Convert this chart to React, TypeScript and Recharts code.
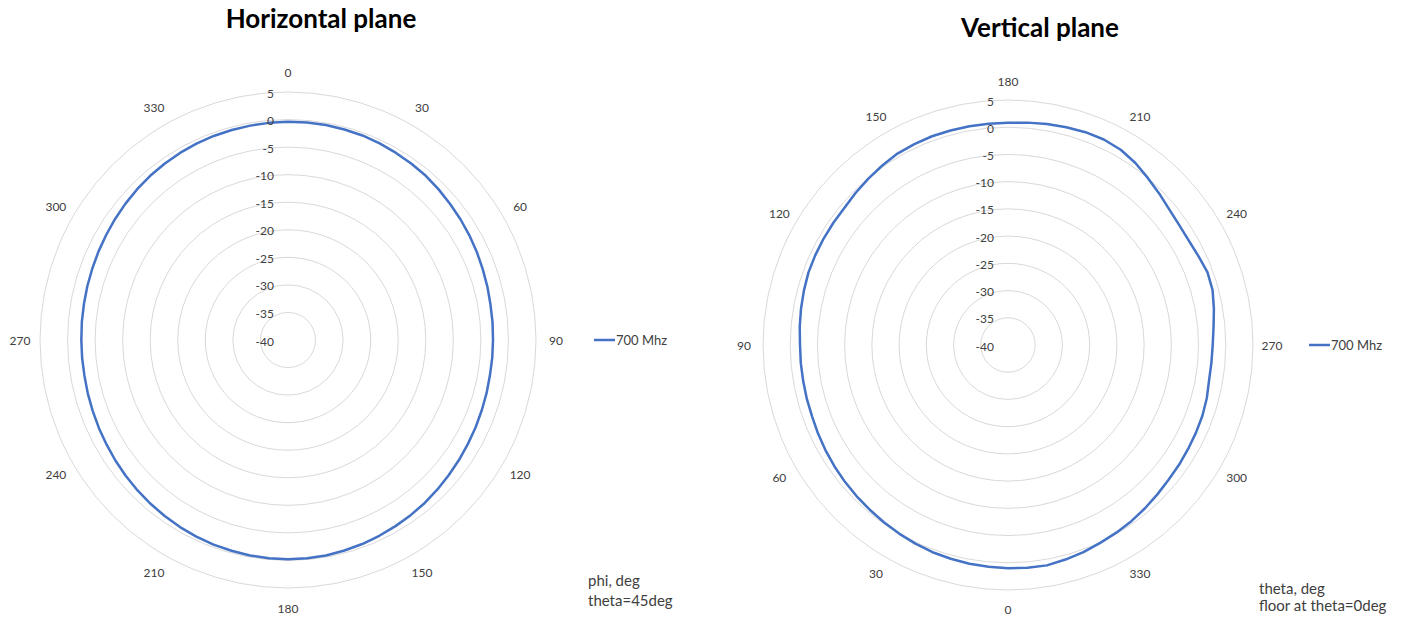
import React from 'react';
import { RadarChart, Radar, PolarGrid, PolarAngleAxis, PolarRadiusAxis, Legend } from 'recharts';

const hAngles = [0, 5, 10, 15, 20, 25, 30, 35, 40, 45, 50, 55, 60, 65, 70, 75, 80, 85, 90, 95, 100, 105, 110, 115, 120, 125, 130, 135, 140, 145, 150, 155, 160, 165, 170, 175, 180, 185, 190, 195, 200, 205, 210, 215, 220, 225, 230, 235, 240, 245, 250, 255, 260, 265, 270, 275, 280, 285, 290, 295, 300, 305, 310, 315, 320, 325, 330, 335, 340, 345, 350, 355];
const hValues = [-0.4, -0.4, -0.4, -0.45, -0.5, -0.65, -0.8, -0.95, -1.1, -1.35, -1.6, -1.8, -2.0, -2.2, -2.4, -2.55, -2.7, -2.75, -2.8, -2.8, -2.8, -2.7, -2.6, -2.45, -2.3, -2.1, -1.9, -1.65, -1.4, -1.2, -1.0, -0.8, -0.6, -0.45, -0.3, -0.25, -0.2, -0.25, -0.3, -0.4, -0.5, -0.65, -0.8, -1.0, -1.2, -1.4, -1.6, -1.8, -2.0, -2.15, -2.3, -2.4, -2.5, -2.5, -2.5, -2.45, -2.4, -2.3, -2.2, -2.05, -1.9, -1.7, -1.5, -1.3, -1.1, -0.95, -0.8, -0.7, -0.6, -0.55, -0.5, -0.45];

const vAngles = [180, 185, 190, 195, 200, 205, 210, 215, 220, 225, 230, 235, 240, 245, 250, 255, 260, 265, 270, 275, 280, 285, 290, 295, 300, 305, 310, 315, 320, 325, 330, 335, 340, 345, 350, 355, 0, 5, 10, 15, 20, 25, 30, 35, 40, 45, 50, 55, 60, 65, 70, 75, 80, 85, 90, 95, 100, 105, 110, 115, 120, 125, 130, 135, 140, 145, 150, 155, 160, 165, 170, 175];
const vValues = [0.8, 1.0, 1.2, 1.4, 1.6, 1.65, 1.4, 0.8, 0.0, -0.7, -1.3, -1.6, -1.65, -1.4, -1.0, -1.1, -1.6, -2.1, -2.4, -2.5, -2.5, -2.2, -2.0, -1.9, -1.8, -1.65, -1.5, -1.2, -0.85, -0.5, -0.2, 0.1, 0.5, 0.8, 1.1, 1.05, 1.0, 0.9, 0.8, 0.65, 0.5, 0.25, 0.0, -0.25, -0.5, -0.7, -0.9, -1.1, -1.3, -1.5, -1.7, -1.75, -1.8, -1.8, -1.8, -1.6, -1.4, -1.2, -1.0, -0.95, -0.9, -0.85, -0.8, -0.45, -0.1, 0.25, 0.6, 0.7, 0.8, 0.8, 0.8, 0.8];

const radiusTicks = [-40, -35, -30, -25, -20, -15, -10, -5, 0, 5];
const labelEvery = 30;
const seriesName = '700 Mhz';

const hData = hAngles.map((a, i) => ({ angle: a, v: hValues[i] }));
const vData = vAngles.map((a, i) => ({ angle: a, v: vValues[i] }));

const FONT = "Lato, 'Open Sans', sans-serif";
const BLUE = '#4472c4';
const GRID = '#d9d9d9';
const TEXT = '#404040';

const AngleTick = (props: any) => {
  const { x, y, payload } = props;
  if (Number(payload.value) % labelEvery !== 0) return <g />;
  return (
    <text x={x} y={y} textAnchor="middle" dominantBaseline="central" fontSize={12} fill={TEXT} fontFamily={FONT}>
      {payload.value}
    </text>
  );
};

const RadiusTick = (props: any) => {
  const { x, y, payload } = props;
  return (
    <text x={x - 14} y={y + 1} textAnchor="end" dominantBaseline="central" fontSize={12} fill={TEXT} fontFamily={FONT}>
      {payload.value}
    </text>
  );
};

const LegendContent = () => (
  <div style={{ display: 'flex', alignItems: 'center', fontFamily: FONT, fontSize: 13, color: TEXT }}>
    <svg width={22} height={10}>
      <line x1={0} y1={5} x2={21} y2={5} stroke={BLUE} strokeWidth={2.5} />
    </svg>
    <span>{seriesName}</span>
  </div>
);

type PolarProps = {
  data: any[];
  cx: number;
  cy: number;
  r: number;
  tickSize: number;
  legendLeft: number;
  legendTop: number;
};

const Polar = ({ data, cx, cy, r, tickSize, legendLeft, legendTop }: PolarProps) => (
  <RadarChart
    width={701}
    height={620}
    data={data}
    cx={cx}
    cy={cy}
    outerRadius={r}
    innerRadius={0}
    startAngle={90}
    endAngle={-270}
    margin={{ top: 0, right: 0, bottom: 0, left: 0 }}
  >
    <PolarGrid gridType="circle" radialLines={false} stroke={GRID} strokeWidth={1} />
    <PolarAngleAxis dataKey="angle" tickLine={false} axisLine={false} tickSize={tickSize} tick={<AngleTick />} />
    <PolarRadiusAxis
      angle={90}
      type="number"
      domain={[-40, 5]}
      ticks={radiusTicks}
      tickCount={10}
      axisLine={false}
      tickLine={false}
      tick={<RadiusTick />}
      allowDataOverflow
    />
    <Radar
      name={seriesName}
      dataKey="v"
      stroke={BLUE}
      strokeWidth={2.5}
      strokeLinejoin="round"
      fill="none"
      fillOpacity={0}
      dot={false}
      isAnimationActive={false}
    />
    <Legend
      content={<LegendContent />}
      wrapperStyle={{ position: 'absolute', left: legendLeft, top: legendTop, width: 'auto', height: 'auto', bottom: 'auto', right: 'auto' }}
    />
  </RadarChart>
);

export default function App() {
  return (
    <div style={{ position: 'absolute', left: 0, top: 0, width: 1402, height: 620, background: '#fff', fontFamily: FONT, overflow: 'hidden' }}>
      <div style={{ position: 'absolute', left: 0, top: 0 }}>
        <Polar data={hData} cx={288} cy={340} r={248} tickSize={20} legendLeft={594} legendTop={332} />
      </div>
      <div style={{ position: 'absolute', left: 701, top: 0 }}>
        <Polar data={vData} cx={307} cy={345} r={245} tickSize={19} legendLeft={608} legendTop={337} />
      </div>
      <div style={{ position: 'absolute', left: 121, width: 400, top: 2, textAlign: 'center', fontWeight: 700, fontSize: 26, color: '#000', lineHeight: '32px' }}>
        Horizontal plane
      </div>
      <div style={{ position: 'absolute', left: 840, width: 400, top: 11, textAlign: 'center', fontWeight: 700, fontSize: 26, color: '#000', lineHeight: '32px' }}>
        Vertical plane
      </div>
      <div style={{ position: 'absolute', left: 588, top: 570, fontSize: 15, color: TEXT, lineHeight: '20px' }}>
        <div>phi, deg</div>
        <div>theta=45deg</div>
      </div>
      <div style={{ position: 'absolute', left: 1259, top: 580, fontSize: 15, color: TEXT, lineHeight: '17px' }}>
        <div>theta, deg</div>
        <div>floor at theta=0deg</div>
      </div>
    </div>
  );
}
